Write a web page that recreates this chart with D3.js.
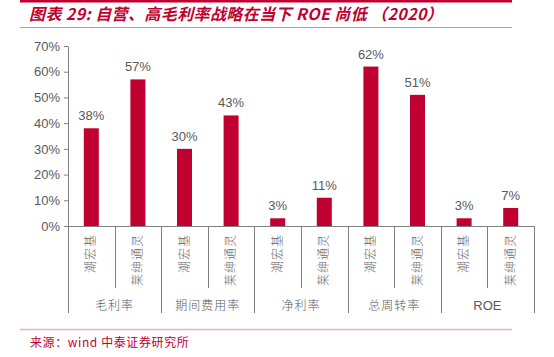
<!DOCTYPE html>
<html><head><meta charset="utf-8">
<script src="https://cdn.jsdelivr.net/npm/d3@7"></script>
<style>body{margin:0;background:#fff;}svg{display:block;}</style>
</head><body><svg id="c" width="554" height="357"></svg>
<script>
const groups = ["毛利率","期间费用率","净利率","总周转率","ROE"];
const companies = ["潮宏基","莱绅通灵"];
const values = [38,57,30,43,3,11,62,51,3,7];
const yTicks = [0,10,20,30,40,50,60,70];
const titleText = "图表 29:  自营、高毛利率战略在当下 ROE 尚低 （2020）";
const sourceText = "来源：wind 中泰证券研究所";

const svg = d3.select("#c");
const red = "#c00030";
const gray = "#595959";
const font = "'Liberation Sans', Arial, sans-serif";
const cjk = "'Noto Sans CJK SC', sans-serif";

// header
svg.append("rect").attr("x",20).attr("y",0).attr("width",492).attr("height",2.5).attr("fill",red);
svg.append("text").attr("x",29).attr("y",20).attr("fill",red)
  .attr("font-family",cjk).attr("font-size",16).attr("font-weight","bold").attr("font-style","italic")
  .attr("letter-spacing",0.4)
  .text(titleText);
svg.append("line").attr("x1",20).attr("x2",512).attr("y1",27.5).attr("y2",27.5).attr("stroke","#e08a8a").attr("stroke-width",1);

const cats = [];
groups.forEach(g=>companies.forEach(c=>cats.push(g+"|"+c)));
const x = d3.scaleBand().domain(cats).range([68,534]).paddingInner(0).paddingOuter(0);
const y = d3.scaleLinear().domain([0,70]).range([226,46]);

// y axis
const ya = svg.append("g").attr("transform","translate(68,0)")
  .call(d3.axisLeft(y).tickValues(yTicks).tickFormat(d=>d+"%").tickSize(4).tickSizeOuter(0));
ya.select(".domain").attr("stroke","#808080");
ya.selectAll(".tick line").attr("stroke","#808080");
ya.selectAll(".tick text").attr("fill",gray).attr("font-family",font).attr("font-size",13).attr("x",-8);

// bars
const bw = 15;
svg.selectAll("rect.bar").data(values).enter().append("rect").attr("class","bar")
  .attr("x",(d,i)=>x(cats[i])+x.bandwidth()/2-bw/2)
  .attr("y",d=>y(d)).attr("width",bw).attr("height",d=>y(0)-y(d)).attr("fill",red);
svg.selectAll("text.val").data(values).enter().append("text").attr("class","val")
  .attr("x",(d,i)=>x(cats[i])+x.bandwidth()/2).attr("y",d=>y(d)-8)
  .attr("text-anchor","middle").attr("fill",gray).attr("font-family",font).attr("font-size",13)
  .text(d=>d+"%");

// x axis baseline
svg.append("line").attr("x1",68).attr("x2",534).attr("y1",y(0)+0.5).attr("y2",y(0)+0.5).attr("stroke","#808080");

// separators
cats.forEach((c,i)=>{
  const xs = Math.round(x(c))+0.5;
  const isGroup = i%2===0;
  svg.append("line").attr("x1",xs).attr("x2",xs).attr("y1",y(0)).attr("y2",isGroup?313:288)
    .attr("stroke","#808080");
});
svg.append("line").attr("x1",534.5).attr("x2",534.5).attr("y1",y(0)).attr("y2",313).attr("stroke","#808080");

// category labels (vertical)
cats.forEach((c,i)=>{
  const name = c.split("|")[1];
  const cx = x(c)+x.bandwidth()/2;
  svg.append("text").attr("transform",`translate(${cx+4},234) rotate(-90)`)
    .attr("text-anchor","end").attr("fill","#6a6a6a").attr("font-family",cjk).attr("font-size",12)
    .attr("font-weight",300).attr("letter-spacing",1)
    .text(name);
});
// group labels
groups.forEach((g,gi)=>{
  const x0 = x(g+"|"+companies[0]);
  const cx = x0 + x.bandwidth();
  svg.append("text").attr("x",cx).attr("y",310).attr("text-anchor","middle")
    .attr("fill",gray).attr("font-family",g==="ROE"?font:cjk).attr("font-size",g==="ROE"?13:12)
    .attr("font-weight",g==="ROE"?400:300)
    .attr("letter-spacing",g==="ROE"?0:1).text(g);
});

// footer
svg.append("line").attr("x1",20).attr("x2",512).attr("y1",329.5).attr("y2",329.5).attr("stroke","#f0b0b0").attr("stroke-width",1.5);
svg.append("text").attr("x",30).attr("y",347).attr("fill",red).attr("font-family",cjk).attr("font-size",12)
  .attr("letter-spacing",0.6)
  .text(sourceText);
</script></body></html>
